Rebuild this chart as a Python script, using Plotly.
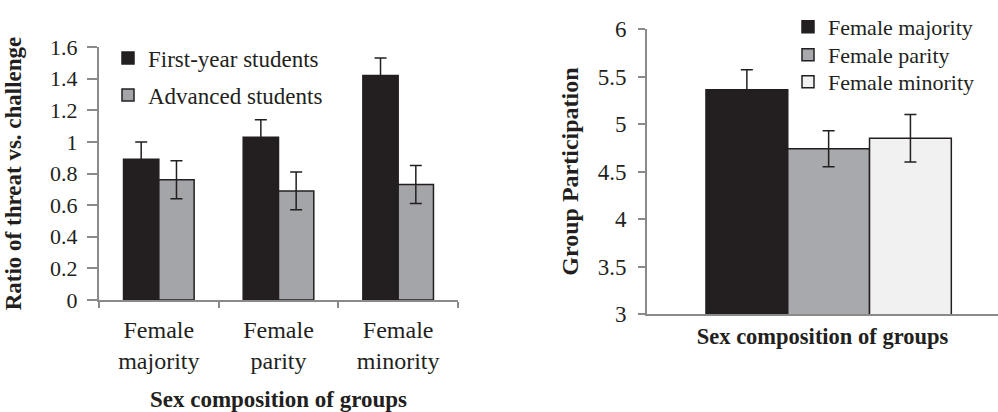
import plotly.graph_objects as go

# ---- data: left panel ----
categories = ["Female<br>majority", "Female<br>parity", "Female<br>minority"]
first_year = [0.89, 1.03, 1.42]
first_year_err = [0.11, 0.11, 0.11]
advanced = [0.76, 0.69, 0.73]
advanced_err = [0.12, 0.12, 0.12]
left_series = ["First-year students", "Advanced students"]

# ---- data: right panel ----
part_groups = ["Female majority", "Female parity", "Female minority"]
participation = [5.36, 4.74, 4.85]
participation_err = [0.21, 0.19, 0.25]

W, H = 998, 412
FONT = "Liberation Serif"
TXT = "#231f20"
AX = "#8a8a8a"
left_colors = ["#231f20", "#a3a5a8"]
right_colors = ["#231f20", "#a7a9ac", "#f1f1f2"]


def px(x):
    return x / W


def py(y):
    return 1 - y / H


fig = go.Figure()

left_legends = ["legend", "legend2"]
left_rows = [58, 95]
right_legends = ["legend3", "legend4", "legend5"]
right_rows = [27, 55, 82]

bw = 0.295
for i, (name, vals, errs) in enumerate(
        [(left_series[0], first_year, first_year_err), (left_series[1], advanced, advanced_err)]):
    fig.add_trace(go.Bar(
        x=categories, y=vals, name=name,
        marker=dict(color=left_colors[i], line=dict(color="#231f20", width=1.5)),
        width=bw, offset=-bw + i * bw,
        error_y=dict(type="data", array=errs, color="#231f20", thickness=1.5, width=6),
        xaxis="x", yaxis="y", legend=left_legends[i],
    ))

rw = 0.233
roffs = [-0.332, -0.099, 0.134]
for i, name in enumerate(part_groups):
    fig.add_trace(go.Bar(
        x=[""], y=[participation[i]], name=name,
        marker=dict(color=right_colors[i], line=dict(color="#231f20", width=1.5)),
        width=rw, offset=roffs[i],
        error_y=dict(type="data", array=[participation_err[i]], color="#231f20", thickness=1.5, width=6),
        xaxis="x2", yaxis="y2", legend=right_legends[i],
    ))

legends = {}
for i, lg in enumerate(left_legends):
    legends[lg] = dict(x=px(108), y=py(left_rows[i]), xanchor="left", yanchor="middle",
                       font=dict(size=23), bgcolor="rgba(0,0,0,0)")
for i, lg in enumerate(right_legends):
    legends[lg] = dict(x=px(788), y=py(right_rows[i]), xanchor="left", yanchor="middle",
                       font=dict(size=22), bgcolor="rgba(0,0,0,0)")

fig.update_layout(
    width=W, height=H,
    margin=dict(l=0, r=0, t=0, b=0, autoexpand=False),
    paper_bgcolor="white", plot_bgcolor="white",
    barmode="overlay",
    font=dict(family=FONT, color=TXT, size=20),
    xaxis=dict(
        domain=[px(99), px(458)], anchor="y", automargin=False,
        showline=True, linecolor=AX, linewidth=2,
        ticks="outside", tickson="boundaries", ticklen=6, tickcolor=AX, tickwidth=1.5,
        tickfont=dict(size=24), ticklabelstandoff=7,
        title=dict(text="<b>Sex composition of groups</b>", font=dict(size=23), standoff=30),
        showgrid=False,
    ),
    yaxis=dict(
        domain=[py(300), py(47)], anchor="x", automargin=False,
        range=[0, 1.6], dtick=0.2,
        showline=True, linecolor=AX, linewidth=2,
        ticks="outside", ticklen=10, tickcolor=AX, tickwidth=1.5,
        tickfont=dict(size=22), ticklabelstandoff=5,
        title=dict(text="<b>Ratio of threat vs. challenge</b>", font=dict(size=23), standoff=22),
        showgrid=False, zeroline=False,
    ),
    xaxis2=dict(
        domain=[px(647), 1.0], anchor="y2", automargin=False,
        range=[-0.5, 0.5],
        showline=True, linecolor=AX, linewidth=2,
        ticks="", showticklabels=False,
        title=dict(text="<b>Sex composition of groups</b>", font=dict(size=22.5), standoff=13),
        showgrid=False,
    ),
    yaxis2=dict(
        domain=[py(314), py(29)], anchor="x2", automargin=False,
        range=[3, 6], dtick=0.5,
        showline=True, linecolor=AX, linewidth=2,
        ticks="outside", ticklen=7, tickcolor=AX, tickwidth=1.5,
        tickfont=dict(size=23), ticklabelstandoff=7,
        title=dict(text="<b>Group Participation</b>", font=dict(size=24), standoff=12),
        showgrid=False, zeroline=False,
    ),
    showlegend=True,
    **legends,
)

fig.write_html("out.html", config={"displayModeBar": False},
               post_script="document.body.style.margin='0px';")
